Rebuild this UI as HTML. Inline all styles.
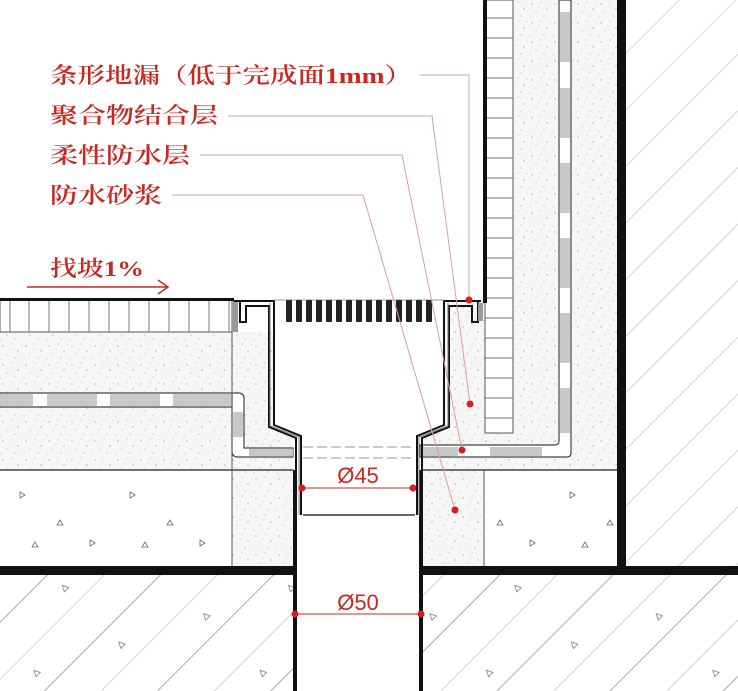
<!DOCTYPE html>
<html><head><meta charset="utf-8"><style>
html,body{margin:0;padding:0;background:#fff}
svg{display:block}
.t{font-family:"Liberation Serif","Noto Serif CJK SC",serif;fill:#c8281e;font-size:22px;font-weight:600}
</style></head><body>
<svg width="738" height="691" viewBox="0 0 738 691" xmlns="http://www.w3.org/2000/svg">
<defs>
<pattern id="sp" width="23" height="19" patternUnits="userSpaceOnUse">
<rect width="23" height="19" fill="#f6f6f6"/>
<circle cx="3" cy="4" r=".7" fill="#aaa"/><circle cx="12" cy="2" r=".6" fill="#bbb"/>
<circle cx="18" cy="9" r=".7" fill="#aaa"/><circle cx="7" cy="12" r=".6" fill="#bbb"/>
<circle cx="15" cy="16" r=".6" fill="#aaa"/><circle cx="21" cy="3" r=".5" fill="#bbb"/>
<circle cx="1" cy="17" r=".5" fill="#aaa"/><circle cx="10" cy="7" r=".5" fill="#bbb"/>
</pattern>
<pattern id="tri" width="110" height="80" patternUnits="userSpaceOnUse">
<rect width="110" height="80" fill="#fff"/>
<path d="M20 12l5 3-5 3zM60 40l-3 5h6zM90 60l5 3-5 3zM35 62l-3 5h6z" fill="none" stroke="#666" stroke-width=".8"/>
</pattern>
<pattern id="ha" width="80" height="40" patternUnits="userSpaceOnUse" patternTransform="rotate(-45)">
<rect width="80" height="40" fill="#fff"/>
<line x1="0" y1="0" x2="80" y2="0" stroke="#aaa" stroke-width="1"/>
</pattern>
<pattern id="hat" width="160" height="80" patternUnits="userSpaceOnUse" patternTransform="rotate(-45)">
<rect width="160" height="80" fill="#fff"/>
<line x1="0" y1="0" x2="160" y2="0" stroke="#aaa" stroke-width="1"/>
<line x1="0" y1="40" x2="160" y2="40" stroke="#aaa" stroke-width="1"/>
<path d="M30 18l-3 6h6zM110 58l-3 6h6z" fill="none" stroke="#777" stroke-width=".8"/>
</pattern>
</defs>

<rect x="0" y="575" width="738" height="116" fill="url(#hat)"/>
<rect x="626" y="0" width="112" height="566" fill="url(#ha)"/>
<rect x="0" y="470" width="232" height="96" fill="url(#tri)"/>
<rect x="484" y="470" width="133" height="96" fill="url(#tri)"/>
<rect x="0" y="332" width="293" height="138" fill="url(#sp)"/>
<rect x="232" y="470" width="61" height="96" fill="url(#sp)"/>
<rect x="423" y="300" width="194" height="170" fill="url(#sp)"/>
<rect x="423" y="470" width="61" height="96" fill="url(#sp)"/>
<rect x="487" y="0" width="130" height="300" fill="url(#sp)"/>
<rect x="0" y="300" width="232" height="32" fill="#fff" stroke="#555" stroke-width="1"/>
<g stroke="#777" stroke-width="1">
<line x1="10" y1="300" x2="10" y2="332"/><line x1="29" y1="300" x2="29" y2="332"/><line x1="49" y1="300" x2="49" y2="332"/><line x1="69" y1="300" x2="69" y2="332"/><line x1="89" y1="300" x2="89" y2="332"/><line x1="109" y1="300" x2="109" y2="332"/><line x1="129" y1="300" x2="129" y2="332"/><line x1="149" y1="300" x2="149" y2="332"/><line x1="169" y1="300" x2="169" y2="332"/><line x1="189" y1="300" x2="189" y2="332"/><line x1="209" y1="300" x2="209" y2="332"/><line x1="229" y1="300" x2="229" y2="332"/>
</g>
<rect x="232" y="300" width="6" height="32" fill="#999"/>
<rect x="485" y="0" width="28" height="433" fill="#fff" stroke="#555"/>
<g stroke="#777">
<line x1="485" y1="18" x2="513" y2="18"/><line x1="485" y1="38" x2="513" y2="38"/><line x1="485" y1="58" x2="513" y2="58"/><line x1="485" y1="78" x2="513" y2="78"/><line x1="485" y1="98" x2="513" y2="98"/><line x1="485" y1="118" x2="513" y2="118"/><line x1="485" y1="138" x2="513" y2="138"/><line x1="485" y1="158" x2="513" y2="158"/><line x1="485" y1="178" x2="513" y2="178"/><line x1="485" y1="198" x2="513" y2="198"/><line x1="485" y1="218" x2="513" y2="218"/><line x1="485" y1="238" x2="513" y2="238"/><line x1="485" y1="258" x2="513" y2="258"/><line x1="485" y1="278" x2="513" y2="278"/><line x1="485" y1="298" x2="513" y2="298"/><line x1="485" y1="318" x2="513" y2="318"/><line x1="485" y1="338" x2="513" y2="338"/><line x1="485" y1="358" x2="513" y2="358"/><line x1="485" y1="378" x2="513" y2="378"/><line x1="485" y1="398" x2="513" y2="398"/><line x1="485" y1="418" x2="513" y2="418"/>
</g>
<rect x="483" y="0" width="4" height="303" fill="#111"/>
<path d="M0 393H238q6 0 6 6V448H293V457H238q-6 0-6-6V407H0Z" fill="#fff" stroke="#444" stroke-width="1.2"/>
<g fill="#c8c8c8">
<rect x="0" y="394" width="33" height="12"/><rect x="47" y="394" width="50" height="12"/><rect x="110" y="394" width="50" height="12"/><rect x="173" y="394" width="60" height="12"/>
<rect x="233" y="412" width="10" height="25"/><rect x="249" y="449" width="44" height="7"/>
</g>
<path d="M559 0V441q0 4-4 4H420V457H567q4 0 4-4V0Z" fill="#fff" stroke="#444" stroke-width="1.2"/>
<g fill="#c8c8c8">
<rect x="560" y="12" width="10" height="50"/><rect x="560" y="88" width="10" height="50"/><rect x="560" y="163" width="10" height="50"/><rect x="560" y="238" width="10" height="50"/><rect x="560" y="313" width="10" height="50"/><rect x="560" y="388" width="10" height="45"/>
<rect x="490" y="447" width="52" height="9"/><rect x="423" y="447" width="35" height="9"/>
</g>
<line x1="0" y1="470" x2="293" y2="470" stroke="#444" stroke-width="1.5"/>
<line x1="423" y1="470" x2="617" y2="470" stroke="#444" stroke-width="1.5"/>
<line x1="232" y1="332" x2="232" y2="566" stroke="#555"/>
<line x1="484" y1="470" x2="484" y2="566" stroke="#555"/>
<rect x="0" y="566" width="297" height="9" fill="#111"/>
<rect x="419" y="566" width="319" height="9" fill="#111"/>
<rect x="617" y="0" width="9" height="575" fill="#111"/>
<rect x="297" y="470" width="122" height="221" fill="#fff"/>
<rect x="293" y="470" width="4" height="221" fill="#111"/>
<rect x="419" y="470" width="4" height="221" fill="#111"/>
<path d="M275 300H445V425L415 437V515H303V437L275 425Z" fill="#fff"/>
<line x1="303" y1="447" x2="415" y2="447" stroke="#999" stroke-dasharray="10,4"/>
<line x1="303" y1="458" x2="415" y2="458" stroke="#999" stroke-dasharray="10,4"/>
<line x1="303" y1="515" x2="415" y2="515" stroke="#333" stroke-width="1.5"/>
<g fill="none" stroke="#111" stroke-linejoin="miter">
<path d="M234 301H274V425L301 436V515" stroke-width="2"/>
<path d="M240 301V322H246V306H269V427L296 438V515" stroke-width="2"/>
<path d="M481 301H444V425L417 436V515" stroke-width="2"/>
<path d="M478 301V322H472V306H449V427L422 438V515" stroke-width="2"/>
<path d="M270 303V426L299 437V515M448 303V426L419 437V515" stroke-width="1" stroke="#777"/>
</g>
<rect x="478" y="303" width="5" height="18" fill="#999"/>
<line x1="274" y1="300" x2="444" y2="300" stroke="#999"/>
<g fill="#222">
<rect x="286" y="300" width="6" height="22" rx="1"/><rect x="296" y="300" width="6" height="22" rx="1"/><rect x="306" y="300" width="6" height="22" rx="1"/><rect x="316" y="300" width="6" height="22" rx="1"/><rect x="326" y="300" width="6" height="22" rx="1"/><rect x="336" y="300" width="6" height="22" rx="1"/><rect x="346" y="300" width="6" height="22" rx="1"/><rect x="356" y="300" width="6" height="22" rx="1"/><rect x="366" y="300" width="6" height="22" rx="1"/><rect x="376" y="300" width="6" height="22" rx="1"/><rect x="386" y="300" width="6" height="22" rx="1"/><rect x="396" y="300" width="6" height="22" rx="1"/><rect x="406" y="300" width="6" height="22" rx="1"/><rect x="416" y="300" width="6" height="22" rx="1"/><rect x="426" y="300" width="6" height="22" rx="1"/>
</g>
<rect x="0" y="298" width="234" height="3" fill="#111"/>
<g fill="none" stroke="#d9a095" stroke-width="1">
<path d="M420 75H469V300"/>
<path d="M228 116H432L470 404"/>
<path d="M200 155H402L462 450"/>
<path d="M172 195H363L455 510"/>
<path d="M27 287H168M158 280L168 287L158 294" stroke="#c8281e" stroke-width="1.5"/>
<line x1="301" y1="488" x2="415" y2="488" stroke="#c8281e"/>
<line x1="297" y1="614" x2="421" y2="614" stroke="#c8281e"/>
</g>
<g fill="#d8201a">
<circle cx="469" cy="300" r="3.5"/><circle cx="470" cy="404" r="3.5"/><circle cx="462" cy="450" r="3.5"/><circle cx="455" cy="510" r="3.5"/>
<circle cx="302" cy="488" r="3.5"/><circle cx="413" cy="488" r="3.5"/><circle cx="295" cy="614" r="3.5"/><circle cx="421" cy="614" r="3.5"/>
</g>
<text class="t" x="50" y="83" textLength="362" lengthAdjust="spacingAndGlyphs">条形地漏（低于完成面1mm）</text>
<text class="t" x="50" y="123" textLength="168" lengthAdjust="spacingAndGlyphs">聚合物结合层</text>
<text class="t" x="50" y="163" textLength="140" lengthAdjust="spacingAndGlyphs">柔性防水层</text>
<text class="t" x="50" y="203" textLength="112" lengthAdjust="spacingAndGlyphs">防水砂浆</text>
<text class="t" x="50" y="276" textLength="94" lengthAdjust="spacingAndGlyphs">找坡1%</text>
<text x="358" y="483" text-anchor="middle" font-family="Liberation Sans,sans-serif" font-size="22" fill="#c8281e">Ø45</text>
<text x="358" y="610" text-anchor="middle" font-family="Liberation Sans,sans-serif" font-size="22" fill="#c8281e">Ø50</text>
</svg>
</body></html>
